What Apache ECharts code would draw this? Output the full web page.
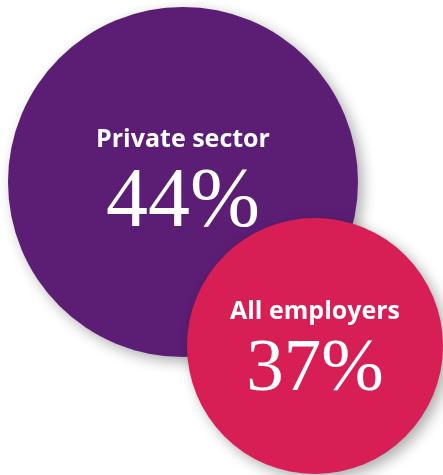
<!DOCTYPE html>
<html>
<head>
<meta charset="utf-8">
<script src="https://cdn.jsdelivr.net/npm/echarts@6/dist/echarts.min.js"></script>
<style>
  html, body { margin: 0; padding: 0; background: #ffffff; }
  #chart { width: 443px; height: 475px; }
</style>
</head>
<body>
<div id="chart"></div>
<script>
// Share of employers, by group
const groups = ['Private sector', 'All employers'];
const shares = [44, 37];

// Bubble look for each group
const bubbleColors = ['#5b1e74', '#d81f55'];
const bubbleCenters = [[183, 182], [315, 346]];
const bubbleRadii = [175, 128];
const headFonts = [25, 25];
const valueFonts = [84, 75];
const labelShift = [8, 12];
const headGap = [8, 6];

const chart = echarts.init(document.getElementById('chart'), null, { renderer: 'canvas' });

const series = groups.map((name, i) => ({
  type: 'pie',
  name: name,
  center: bubbleCenters[i],
  radius: [0, bubbleRadii[i]],
  silent: true,
  startAngle: 90,
  z: i + 1,
  itemStyle: {
    color: bubbleColors[i],
    shadowColor: 'rgba(0,0,0,0.32)',
    shadowBlur: 14,
    shadowOffsetX: 5,
    shadowOffsetY: 5
  },
  emphasis: { disabled: true },
  labelLine: { show: false },
  label: {
    show: true,
    position: 'center',
    padding: [labelShift[i], 0, 0, 0],
    formatter: p => '{h|' + p.name + '}\n{v|' + p.value + '%}',
    rich: {
      h: {
        fontFamily: '"Open Sans", Lato, sans-serif',
        fontWeight: 'bold',
        fontSize: headFonts[i],
        color: '#ffffff',
        lineHeight: 36,
        padding: [0, 0, headGap[i], 0]
      },
      v: {
        fontFamily: '"Liberation Serif", "DejaVu Serif", serif',
        fontSize: valueFonts[i],
        color: '#ffffff',
        lineHeight: valueFonts[i]
      }
    }
  },
  data: [{ name: name, value: shares[i] }]
}));

chart.setOption({
  backgroundColor: '#ffffff',
  animation: false,
  series: series
});
</script>
</body>
</html>
